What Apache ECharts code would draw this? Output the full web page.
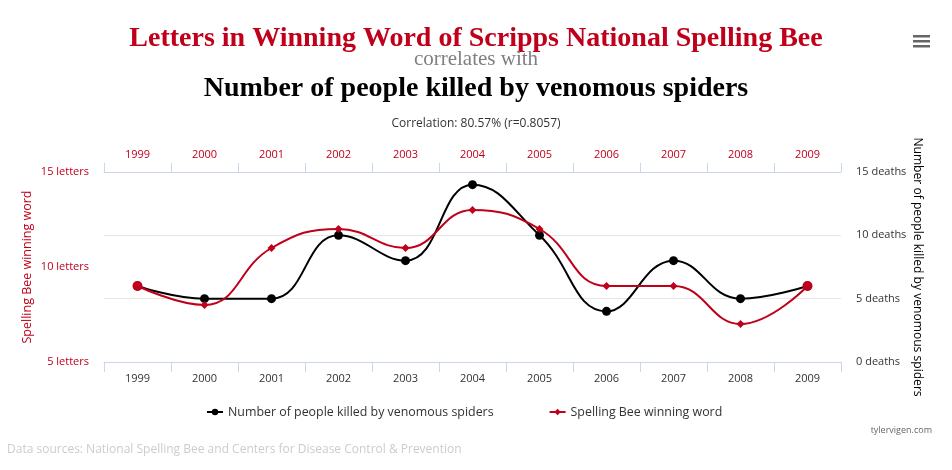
<!DOCTYPE html>
<html>
<head>
<meta charset="utf-8">
<script src="https://cdn.jsdelivr.net/npm/echarts@6/dist/echarts.min.js"></script>
<style>
html,body{margin:0;padding:0;background:#fff;}
#chart{width:952px;height:470px;}
</style>
</head>
<body>
<div id="chart"></div>
<script>
var years = ["1999","2000","2001","2002","2003","2004","2005","2006","2007","2008","2009"];
var spiderDeaths = [6, 5, 5, 10, 8, 14, 10, 4, 8, 5, 6];
var spellingLetters = [9, 8, 11, 12, 11, 13, 12, 9, 9, 7, 9];
var leftTicks = { min: 5, max: 15, interval: 5 };
var rightTicks = { min: 0, max: 15, interval: 5 };

var red = "#c0001a";
var font = "'Open Sans', sans-serif";
var serif = "'Liberation Serif', serif";

var chart = echarts.init(document.getElementById('chart'));

// first and last red points are drawn as circles in the original
var redData = spellingLetters.map(function(v, i){
	if(i === 0 || i === spellingLetters.length - 1){
		return { value: v, symbol: 'circle', symbolSize: 10 };
	}
	return v;
});

var option = {
	backgroundColor: '#fff',
	title: [
		{ text: "Letters in Winning Word of Scripps National Spelling Bee", left: 'center', top: 20,
		  textStyle: { color: red, fontFamily: serif, fontSize: 28, fontWeight: 'bold' } },
		{ text: "correlates with", left: 'center', top: 44,
		  textStyle: { color: '#808080', fontFamily: serif, fontSize: 21, fontWeight: 'normal' } },
		{ text: "Number of people killed by venomous spiders", left: 'center', top: 70,
		  textStyle: { color: '#000', fontFamily: serif, fontSize: 28, fontWeight: 'bold' } },
		{ text: "Correlation: 80.57% (r=0.8057)", left: 'center', top: 113,
		  textStyle: { color: '#333', fontFamily: font, fontSize: 12, fontWeight: 'normal' } }
	],
	legend: {
		bottom: 47,
		left: 201,
		itemGap: 55,
		itemWidth: 16,
		itemHeight: 8,
		textStyle: { color: '#333', fontFamily: font, fontSize: 12.4 },
		data: ["Number of people killed by venomous spiders", "Spelling Bee winning word"]
	},
	grid: { left: 104, right: 111, top: 172, bottom: 108, containLabel: false, outerBoundsMode: 'none' },
	xAxis: [
		{
			type: 'category', position: 'bottom', data: years, boundaryGap: true,
			axisLine: { lineStyle: { color: '#ccd6eb' } },
			axisTick: { show: true, length: 10, lineStyle: { color: '#ccd6eb' } },
			axisLabel: { color: '#333', fontFamily: font, fontSize: 11, margin: 11 }
		},
		{
			type: 'category', position: 'top', data: years, boundaryGap: true,
			axisLine: { lineStyle: { color: '#ccd6eb' } },
			axisTick: { show: true, length: 9, lineStyle: { color: '#ccd6eb' } },
			axisLabel: { color: red, fontFamily: font, fontSize: 11, margin: 12 }
		}
	],
	yAxis: [
		{
			type: 'value', position: 'left',
			min: leftTicks.min, max: leftTicks.max, interval: leftTicks.interval,
			name: "Spelling Bee winning word", nameLocation: 'middle', nameRotate: 90, nameGap: 70,
			nameMoveOverlap: false,
			nameTextStyle: { color: red, fontFamily: font, fontSize: 12.5 },
			axisLine: { show: false }, axisTick: { show: false }, splitLine: { show: false },
			axisLabel: { color: red, fontFamily: font, fontSize: 11, margin: 15, formatter: '{value} letters' }
		},
		{
			type: 'value', position: 'right',
			min: rightTicks.min, max: rightTicks.max, interval: rightTicks.interval,
			name: "Number of people killed by venomous spiders", nameLocation: 'middle', nameRotate: -90, nameGap: 70,
			nameMoveOverlap: false,
			nameTextStyle: { color: '#000', fontFamily: font, fontSize: 12.1 },
			axisLine: { show: false }, axisTick: { show: false },
			splitLine: { show: true, lineStyle: { color: '#e6e6e6' } },
			axisLabel: { color: '#333', fontFamily: font, fontSize: 11, margin: 15, formatter: '{value} deaths' }
		}
	],
	series: [
		{
			name: "Number of people killed by venomous spiders",
			type: 'line', xAxisIndex: 0, yAxisIndex: 1, smooth: 0.45,
			symbol: 'circle', symbolSize: 9,
			itemStyle: { color: '#000' },
			lineStyle: { color: '#000', width: 2 },
			data: spiderDeaths
		},
		{
			name: "Spelling Bee winning word",
			type: 'line', xAxisIndex: 0, yAxisIndex: 0, smooth: 0.45,
			symbol: 'diamond', symbolSize: 8,
			itemStyle: { color: red },
			lineStyle: { color: red, width: 2 },
			data: redData
		}
	],
	graphic: [
		{ type: 'rect', left: 913, top: 35, shape: { width: 17, height: 2.5 }, style: { fill: '#666' } },
		{ type: 'rect', left: 913, top: 40, shape: { width: 17, height: 2.5 }, style: { fill: '#666' } },
		{ type: 'rect', left: 913, top: 45, shape: { width: 17, height: 2.5 }, style: { fill: '#666' } },
		{ type: 'text', right: 20, top: 426, style: { text: 'tylervigen.com', fill: '#666', font: "9px 'Open Sans', sans-serif" } },
		{ type: 'text', left: 7, top: 444, style: { text: 'Data sources: National Spelling Bee and Centers for Disease Control & Prevention', fill: '#ccc', font: "12px 'Open Sans', sans-serif" } }
	]
};

chart.setOption(option);
</script>
</body>
</html>
